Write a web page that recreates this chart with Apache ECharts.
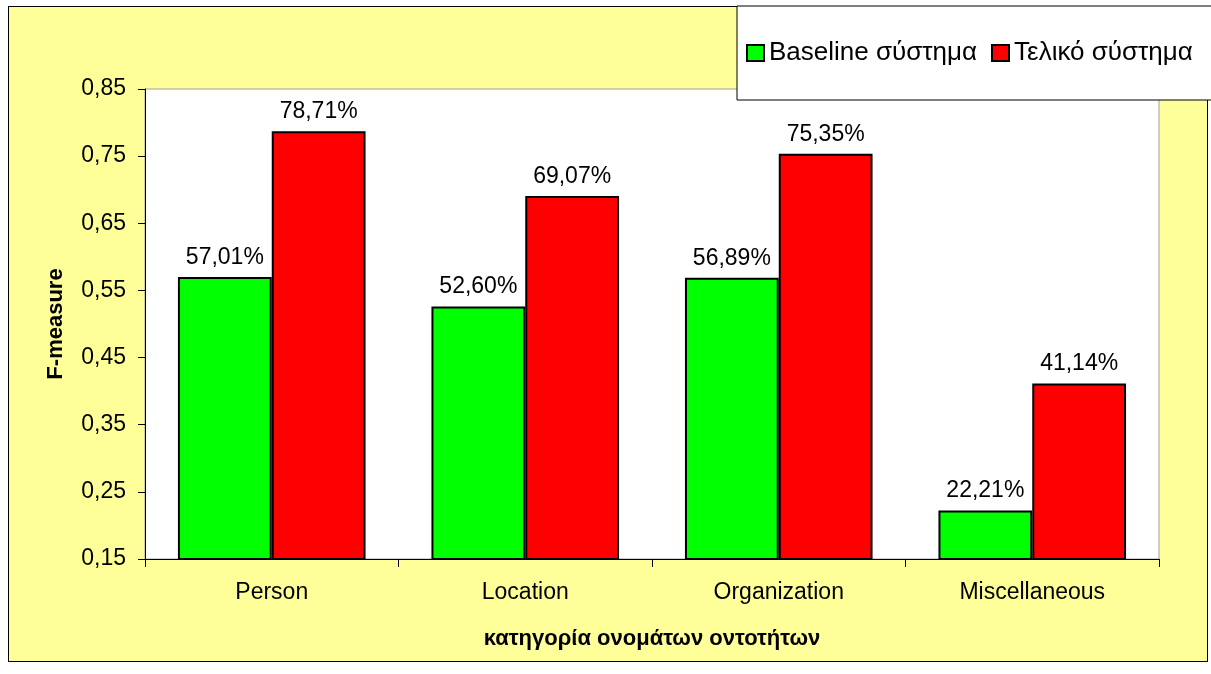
<!DOCTYPE html>
<html>
<head>
<meta charset="utf-8">
<script src="https://cdn.jsdelivr.net/npm/echarts@6/dist/echarts.min.js"></script>
<style>
  body { margin: 0; background: #fff; }
  #frame { position: absolute; left: 8px; top: 6px; width: 1198px; height: 654px; border: 1px solid #000; background: #ffff99; }
  #main { position: absolute; left: 0; top: 0; width: 1211px; height: 674px; }
</style>
</head>
<body>
<div id="frame"></div>
<div id="main"></div>
<script>
// data
var categories = ['Person', 'Location', 'Organization', 'Miscellaneous'];
var baseline = [0.5701, 0.5260, 0.5689, 0.2221];
var finalSys = [0.7871, 0.6907, 0.7535, 0.4114];
var seriesNames = ['Baseline σύστημα', 'Τελικό σύστημα'];

var dom = document.getElementById("main");
var myChart = echarts.init(dom);
var option;

function pct(p) {
    return (p.value * 100).toFixed(2).replace('.', ',') + '%';
}

var barLabel = {
    show: true,
    position: 'top',
    distance: 8,
    color: '#000',
    fontFamily: 'Liberation Sans',
    fontSize: 23,
    formatter: pct
};

option = {
    backgroundColor: 'transparent',
    animation: false,
    textStyle: { fontFamily: 'Liberation Sans', color: '#000' },
    grid: {
        left: 145,
        right: 52,
        top: 89,
        bottom: 115,
        show: true,
        backgroundColor: '#fff',
        borderColor: '#a0a0a0',
        borderWidth: 1
    },
    legend: {
        data: seriesNames,
        left: 737,
        top: 6,
        width: 600,
        orient: 'horizontal',
        icon: 'rect',
        backgroundColor: '#fff',
        borderColor: '#000',
        borderWidth: 1,
        padding: [34, 40, 34, 9],
        itemWidth: 17,
        itemHeight: 16,
        itemGap: 14,
        itemStyle: { borderColor: '#000', borderWidth: 2 },
        textStyle: { fontSize: 26, color: '#000', fontFamily: 'Liberation Sans' }
    },
    xAxis: {
        type: 'category',
        data: categories,
        name: 'κατηγορία ονομάτων οντοτήτων',
        nameLocation: 'middle',
        nameGap: 69,
        nameTextStyle: { fontSize: 22, fontWeight: 'bold', color: '#000' },
        axisLine: { lineStyle: { color: '#000', width: 1 } },
        axisTick: { show: true, length: 8, lineStyle: { color: '#000' } },
        axisLabel: { fontSize: 23, color: '#000', margin: 22 }
    },
    yAxis: {
        type: 'value',
        min: 0.15,
        max: 0.85,
        interval: 0.1,
        name: 'F-measure',
        nameLocation: 'middle',
        nameGap: 78,
        nameTextStyle: { fontSize: 22, fontWeight: 'bold', color: '#000' },
        axisLine: { show: true, lineStyle: { color: '#000', width: 1 } },
        axisTick: { show: true, length: 7, lineStyle: { color: '#000' } },
        splitLine: { show: false },
        axisLabel: {
            fontSize: 23,
            color: '#000',
            margin: 19,
            formatter: function (v) { return v.toFixed(2).replace('.', ','); }
        }
    },
    series: [
        {
            name: seriesNames[0],
            type: 'bar',
            data: baseline,
            barGap: '0%',
            barCategoryGap: '26%',
            itemStyle: { color: '#00ff00', borderColor: '#000', borderWidth: 2 },
            label: barLabel
        },
        {
            name: seriesNames[1],
            type: 'bar',
            data: finalSys,
            itemStyle: { color: '#ff0000', borderColor: '#000', borderWidth: 2 },
            label: barLabel
        }
    ]
};

if (option && typeof option === 'object') {
    myChart.setOption(option);
}
</script>
</body>
</html>
